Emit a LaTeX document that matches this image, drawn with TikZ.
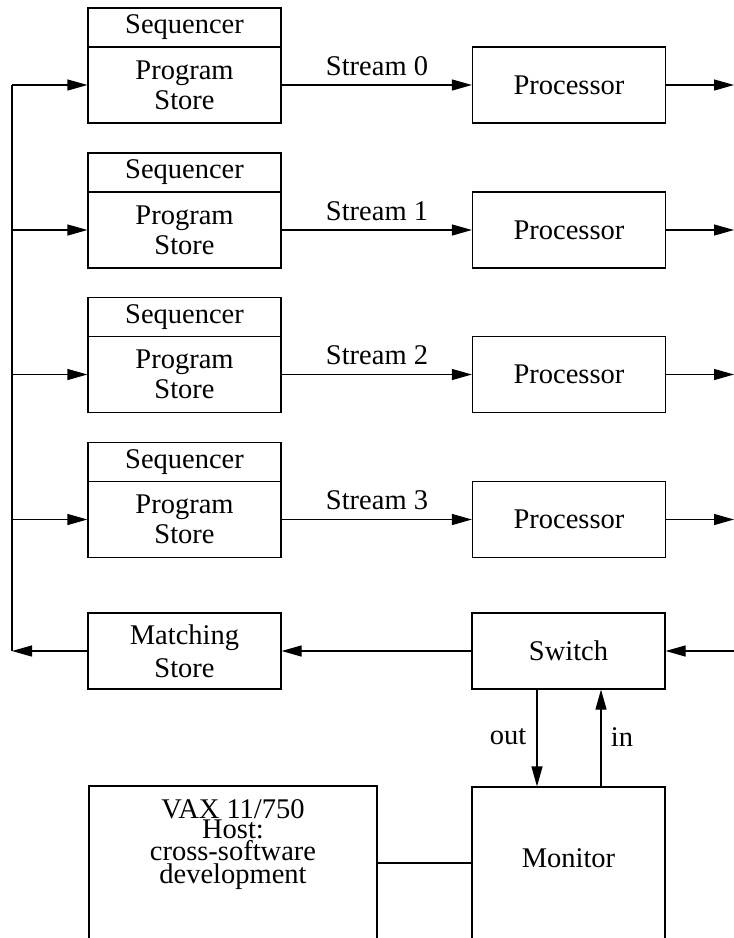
\documentclass[tikz,border=0pt]{standalone}
\usepackage{fontspec}
\setmainfont{Liberation Serif}
\usetikzlibrary{arrows.meta}
\begin{document}
\begin{tikzpicture}[x=1pt,y=-1pt,
  every node/.style={font=\fontsize{28.5}{28}\selectfont, inner sep=0pt},
  blk/.style={draw, line width=1.2pt, minimum width=193pt, align=center},
  wire/.style={line width=1.2pt},
  arr/.style={wire, -{Triangle[length=20pt,width=11pt]}}]
\clip (0,0) rectangle (734,938);

% sequencer / program store stacks with their processors
\foreach \i/\yo in {0/8,1/153,2/297.5,3/442.5}{
  \node[blk, minimum height=39pt] (seq\i) at (184.5,\yo+19.5) {Sequencer};
  \node[blk, minimum height=76pt] (ps\i) at (184.5,\yo+77)
       {Program\\[2pt]Store};
  \node[blk, minimum height=76pt] (proc\i) at (569,\yo+77) {Processor};
  \node[anchor=base] (st\i) at (377,\yo+67) {Stream \i};
  \coordinate (out\i) at (734,\yo+77);
  \coordinate (tap\i) at (12,\yo+77);
  \draw[arr] (ps\i) -- (proc\i);
  \draw[arr] (proc\i) -- (out\i);
  \draw[arr] (tap\i) -- (ps\i);
}

% return path
\node[blk, minimum height=76pt] (ms) at (184.5,651) {Matching\\[5pt]Store};
\node[blk, minimum height=76pt] (sw) at (568.5,651) {Switch};
\coordinate (ring) at (734,651);
\coordinate (bus) at (12,651);
\draw[arr] (ring) -- (sw);
\draw[arr] (sw) -- (ms);
\draw[arr] (ms) -- (bus);
\draw[wire] (tap0) -- (bus);

% host and monitor
\node[blk, minimum width=288pt, minimum height=175pt] (vax) at (233,873.5) {};
\node[align=center] (vaxtxt) at (233,845)
     {VAX 11/750\\[-8pt]Host:\\[-6pt]cross-software\\[-5pt]development};
\node[blk, minimum height=175pt] (mon) at (568.5,874.5) {};
\node (montxt) at (568.5,858) {Monitor};
\coordinate (lk) at (420,863);
\draw[wire] (vax.east |- lk) -- (mon.west |- lk);

\coordinate (ox) at (537,0);
\coordinate (ix) at (601,0);
\draw[arr] (sw.south -| ox) -- (mon.north -| ox);
\draw[arr] (mon.north -| ix) -- (sw.south -| ix);
\node (outl) at (508,737) {out};
\node (inl) at (622,737) {in};
\end{tikzpicture}
\end{document}
